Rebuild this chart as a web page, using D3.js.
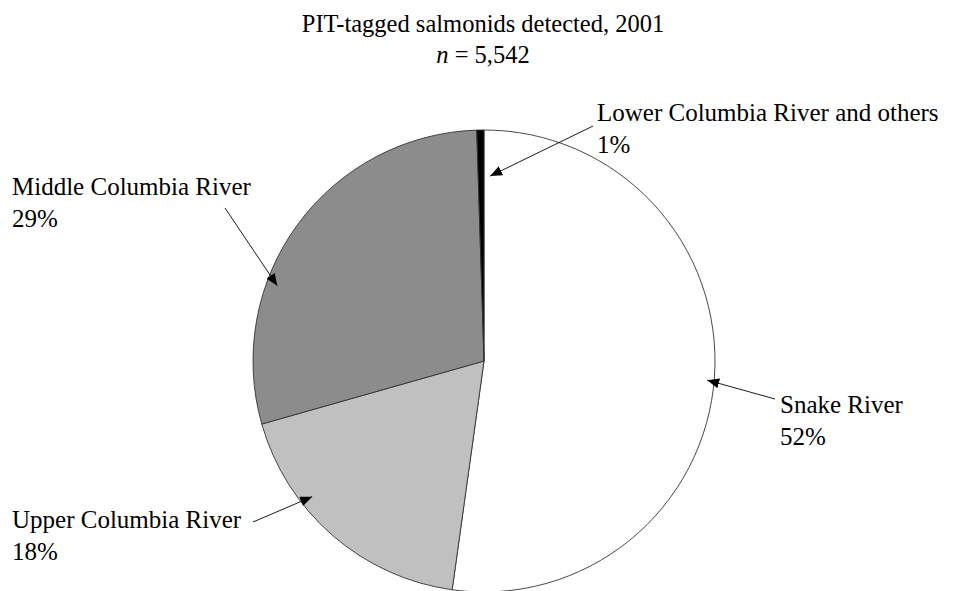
<!DOCTYPE html>
<html>
<head>
<meta charset="utf-8">
<script src="https://cdn.jsdelivr.net/npm/d3@7"></script>
<style>
  body { margin: 0; background: #fff; }
  text { font-family: "Liberation Serif", "Times New Roman", serif; fill: #000; }
</style>
</head>
<body>
<div id="chart"></div>
<script>
// data (share of detections, %)
const regions = ["Snake River", "Upper Columbia River", "Middle Columbia River", "Lower Columbia River and others"];
const shares = [52.2, 18.4, 28.9, 0.5];
const pctLabels = ["52%", "18%", "29%", "1%"];
const fills = ["#ffffff", "#c0c0c0", "#8c8c8c", "#000000"];

const width = 953;
const height = 591;
const cx = 484;
const cy = 361;
const radius = 231;

// label placement: text origin, arrow start, arrow tip (polar: deg, r)
const labelLayout = [
  { x: 780, y: 413, sx: 775, sy: 399, a: 94.9, r: 224 },
  { x: 12, y: 528, sx: 253, sy: 522, a: 231.7, r: 219 },
  { x: 12, y: 195, sx: 225, sy: 208, a: 290, r: 220 },
  { x: 597, y: 121, sx: 593, sy: 126, a: 1.9, r: 185 }
];

const svg = d3.select("#chart")
  .append("svg")
  .attr("width", width)
  .attr("height", height);

svg.append("defs").append("marker")
  .attr("id", "head")
  .attr("viewBox", "0 0 12 10")
  .attr("refX", 12)
  .attr("refY", 5)
  .attr("markerWidth", 12)
  .attr("markerHeight", 10)
  .attr("markerUnits", "userSpaceOnUse")
  .attr("orient", "auto")
  .append("path")
  .attr("d", "M0,0 L12,5 L0,10 Z")
  .attr("fill", "#000");

// Title
const title = svg.append("text")
  .attr("x", 483)
  .attr("y", 32)
  .style("font-size", "24.5px")
  .style("text-anchor", "middle");
title.append("tspan").text("PIT-tagged salmonids detected, 2001");
const sub = svg.append("text")
  .attr("x", 483)
  .attr("y", 63)
  .style("font-size", "24.5px")
  .style("text-anchor", "middle");
sub.append("tspan").style("font-style", "italic").text("n");
sub.append("tspan").text(" = 5,542");

const pie = d3.pie().sort(null).value((d) => d);
const arc = d3.arc().innerRadius(0).outerRadius(radius);

const g = svg.append("g").attr("transform", `translate(${cx}, ${cy})`);

g.selectAll("path.slice")
  .data(pie(shares))
  .join("path")
  .attr("class", "slice")
  .attr("d", arc)
  .attr("fill", (d, i) => fills[i])
  .attr("stroke", "#333")
  .attr("stroke-width", 0.9);

// labels and arrows
regions.forEach((name, i) => {
  const L = labelLayout[i];
  const tip = d3.pointRadial((L.a * Math.PI) / 180, L.r);
  svg.append("line")
    .attr("x1", L.sx)
    .attr("y1", L.sy)
    .attr("x2", cx + tip[0])
    .attr("y2", cy + tip[1])
    .attr("stroke", "#000")
    .attr("stroke-width", 0.9)
    .attr("marker-end", "url(#head)");

  const t = svg.append("text")
    .attr("x", L.x)
    .attr("y", L.y)
    .style("font-size", "25px");
  t.append("tspan").attr("x", L.x).text(name);
  t.append("tspan").attr("x", L.x).attr("dy", 32).text(pctLabels[i]);
});
</script>
</body>
</html>
